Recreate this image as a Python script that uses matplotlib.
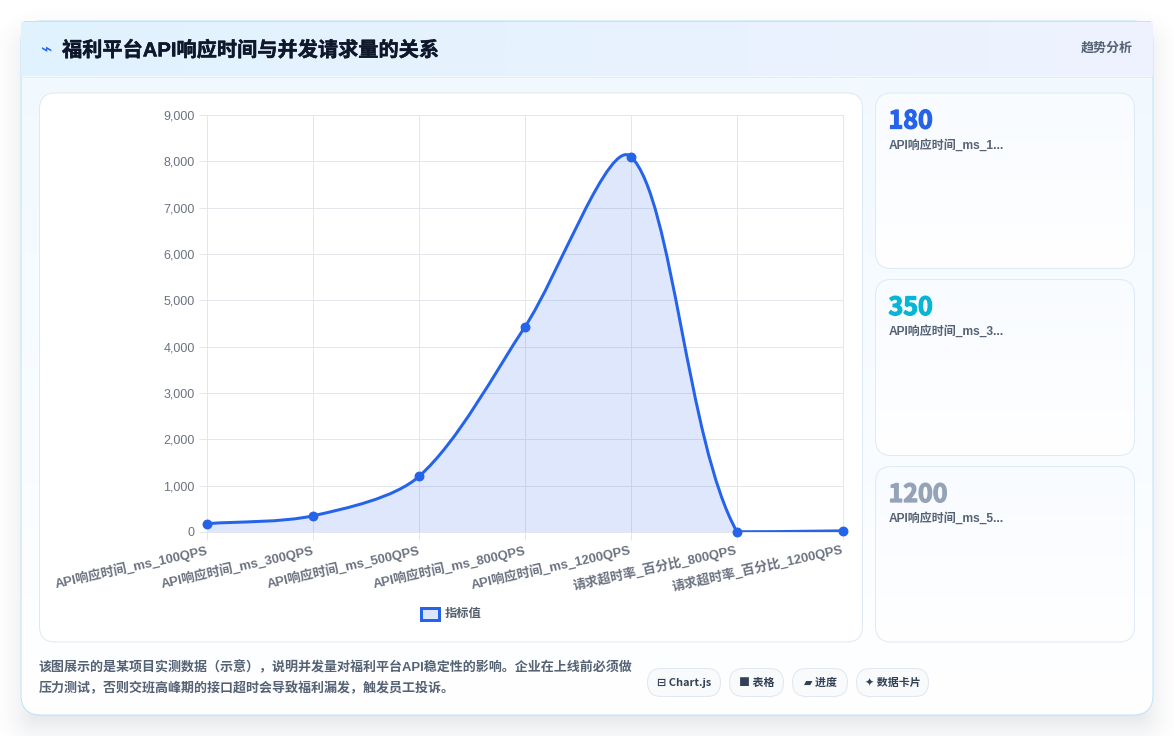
#!/usr/bin/env python3
"""Dashboard card: API response time against concurrent request volume."""

import numpy as np
import matplotlib
matplotlib.use('Agg')
import matplotlib.pyplot as plt
import matplotlib.patheffects as pe
from matplotlib.patches import FancyBboxPatch, PathPatch, Rectangle
from matplotlib.path import Path
from matplotlib.transforms import ScaledTranslation

WIDTH, HEIGHT = 1174, 736
PX = 72 / 100  # points per pixel at dpi 100

CJK = ['Noto Sans CJK SC', 'DejaVu Sans']
LATIN_CJK = ['Liberation Sans', 'Noto Sans CJK SC', 'DejaVu Sans']

categories = ['API响应时间_ms_100QPS', 'API响应时间_ms_300QPS', 'API响应时间_ms_500QPS',
              'API响应时间_ms_800QPS', 'API响应时间_ms_1200QPS',
              '请求超时率_百分比_800QPS', '请求超时率_百分比_1200QPS']
values = [180, 350, 1200, 4430, 8100, 5, 25]
y_ticks = list(range(0, 10000, 1000))

card_values = ['180', '350', '1200']
card_labels = ['API响应时间_ms_1...', 'API响应时间_ms_3...', 'API响应时间_ms_5...']
card_colors = ['#2563eb', '#06b6d4', '#94a3b8']

title = '福利平台API响应时间与并发请求量的关系'
badge = '趋势分析'
footer_lines = ['该图展示的是某项目实测数据（示意），说明并发量对福利平台API稳定性的影响。企业在上线前必须做',
                '压力测试，否则交班高峰期的接口超时会导致福利漏发，触发员工投诉。']
pills = ['⊟ Chart.js', '■ 表格', '▰ 进度', '✦ 数据卡片']

BLUE = '#2563eb'


def rounded(x0, y0, x1, y1, r, **kw):
    return FancyBboxPatch((x0, y0), x1 - x0, y1 - y0,
                          boxstyle=f'round,pad=0,rounding_size={r}', **kw)


def gradient_box(ax, x0, y0, x1, y1, r, c_start, c_end, horizontal=False, edge=None, z=1):
    """Rounded box filled with a two colour linear gradient."""
    c0 = np.array(matplotlib.colors.to_rgb(c_start))
    c1 = np.array(matplotlib.colors.to_rgb(c_end))
    t = np.linspace(0, 1, 256)
    img = (c0[None, :] + (c1 - c0)[None, :] * t[:, None])
    img = img[None, :, :] if horizontal else img[:, None, :]
    im = ax.imshow(img, extent=(x0, x1, y1, y0), aspect='auto', zorder=z, interpolation='bilinear')
    clip = rounded(x0, y0, x1, y1, r, transform=ax.transData, fc='none', ec='none')
    ax.add_patch(clip)
    im.set_clip_path(clip)
    if edge:
        ax.add_patch(rounded(x0, y0, x1, y1, r, fc='none', ec=edge, lw=1 * PX, zorder=z + 0.1))


def spline_path(px, py, left, right, top, bottom, tension=0.3):
    """Cubic segments through the points, control points capped to the plot area."""
    n = len(px)
    ctrl = []
    for i in range(n):
        p_prev = (px[max(i - 1, 0)], py[max(i - 1, 0)])
        p_next = (px[min(i + 1, n - 1)], py[min(i + 1, n - 1)])
        d01 = np.hypot(px[i] - p_prev[0], py[i] - p_prev[1])
        d12 = np.hypot(p_next[0] - px[i], p_next[1] - py[i])
        total = d01 + d12
        fa = tension * d01 / total
        fb = tension * d12 / total
        dx, dy = p_next[0] - p_prev[0], p_next[1] - p_prev[1]
        ctrl.append(((px[i] - fa * dx, py[i] - fa * dy), (px[i] + fb * dx, py[i] + fb * dy)))
    cap = lambda c: (min(max(c[0], left), right), min(max(c[1], bottom), top))
    verts = [(px[0], py[0])]
    codes = [Path.MOVETO]
    for i in range(n - 1):
        verts += [cap(ctrl[i][1]), cap(ctrl[i + 1][0]), (px[i + 1], py[i + 1])]
        codes += [Path.CURVE4] * 3
    return verts, codes


fig = plt.figure(figsize=(WIDTH / 100, HEIGHT / 100), dpi=100, facecolor='white')

# page layer, addressed in pixels from the top left corner
bg = fig.add_axes([0, 0, 1, 1])
bg.set_xlim(0, WIDTH)
bg.set_ylim(HEIGHT, 0)
bg.axis('off')

# soft drop shadow under the main card
xx, yy = np.meshgrid(np.arange(WIDTH) + 0.5, np.arange(HEIGHT) + 0.5)
dx = np.maximum(np.maximum(36 - xx, xx - 1138), 0)
dy = np.maximum(np.maximum(50 - yy, yy - 714), 0)
dist = np.hypot(dx, dy)
shadow = np.zeros((HEIGHT, WIDTH, 4))
shadow[..., :3] = matplotlib.colors.to_rgb('#334155')
shadow[..., 3] = 0.13 * np.clip(1 - dist / 50, 0, 1) ** 2
bg.imshow(shadow, extent=(0, WIDTH, HEIGHT, 0), aspect='auto', zorder=0)
bg.set_xlim(0, WIDTH)
bg.set_ylim(HEIGHT, 0)

# main card and its header strip
gradient_box(bg, 21, 21, 1153, 715, 20, '#f0f9ff', '#ffffff', z=1)
bg.add_patch(rounded(21, 21, 1153, 715, 20, fc='none', ec='#bfe3f8', lw=1 * PX, zorder=1.5))
gradient_box(bg, 21, 21, 1153, 76, 3, '#e0f2fe', '#eef2ff', horizontal=True, z=2)
bg.plot([21, 1153], [76.5, 76.5], color='#e0eefa', lw=1 * PX, zorder=2.5)
bg.plot([24, 1150], [21, 21], color='#bfe3f8', lw=1 * PX, zorder=2.5)

bg.text(47, 50, '⌁', color=BLUE, fontsize=19 * PX, family='DejaVu Sans', ha='center', va='center', zorder=4)
bg.text(62, 50.5, title, color='#0f172a', fontsize=20.2 * PX, fontweight='bold', family=LATIN_CJK,
        ha='left', va='center', zorder=4,
        path_effects=[pe.withStroke(linewidth=0.35, foreground='#0f172a')])
bg.text(1133, 48, badge, color='#556274', fontsize=13 * PX, fontweight='bold', family=CJK,
        ha='right', va='center', zorder=4)

# chart panel
gradient_box(bg, 39.5, 93, 862.5, 642, 16, '#ffffff', '#ffffff', edge='#e2e8f0', z=2)

# stat cards
card_tops = [93, 279.5, 466.5]
card_bottoms = [268.5, 455.5, 642]
for top, bot, val, lab, col in zip(card_tops, card_bottoms, card_values, card_labels, card_colors):
    gradient_box(bg, 875.5, top, 1134.5, bot, 16, '#f8fbff', '#ffffff', edge='#dfeaf6', z=2)
    bg.text(888.5, top + 28.5, val, color=col, fontsize=25 * PX, fontweight='bold', family=CJK,
            ha='left', va='center', zorder=4,
            path_effects=[pe.withStroke(linewidth=0.9, foreground=col)])
    bg.text(889, top + 52, lab, color='#556274', fontsize=12 * PX, fontweight='bold', family=LATIN_CJK,
            ha='left', va='center', zorder=4)

# legend swatch and caption
bg.add_patch(Rectangle((420.8, 607.6), 18.4, 12.6, fc='#dbe6fb', ec=BLUE, lw=3 * PX, zorder=4))
bg.text(445, 613, '指标值', color='#55606e', fontsize=12.3 * PX, family=CJK, fontweight='bold',
        ha='left', va='center', zorder=4)

# footer text
for y, line in zip([667.8, 688.8], footer_lines):
    bg.text(38.5, y, line, color='#556274', fontsize=13 * PX, fontweight='bold', family=LATIN_CJK,
            ha='left', va='center', zorder=4)

# footer pills
pill_spans = [(647.5, 720.5), (729.5, 783.5), (792.5, 847.5), (856.5, 928.5)]
for (x0, x1), label in zip(pill_spans, pills):
    bg.add_patch(rounded(x0, 668.5, x1, 696.5, 14, fc='#f8fafc', ec='#e2e8f0', lw=1 * PX, zorder=3))
    bg.text((x0 + x1) / 2, 683, label, color='#334155', fontsize=11 * PX, fontweight='bold',
            family=CJK, ha='center', va='center', zorder=4)

# line chart
ax = fig.add_axes([207 / WIDTH, 1 - 532 / HEIGHT, 636 / WIDTH, 417 / HEIGHT], zorder=5)
ax.patch.set_alpha(0)
x = np.arange(len(values))
ax.set_xlim(0, len(values) - 1)
ax.set_ylim(0, 9000)

ax.set_yticks(y_ticks)
ax.set_yticklabels([f'{v:,}' for v in y_ticks], color='#6b7280', fontsize=12.5 * PX, family='Liberation Sans')
ax.set_xticks(x)
ax.set_xticklabels(categories, rotation=12.5, ha='right', va='top', rotation_mode='anchor',
                   color='#6b7280', fontsize=13 * PX, fontweight='bold', family=LATIN_CJK)
ax.tick_params(axis='both', length=8 * PX, width=1 * PX, color='#e3e7ec', pad=3)
ax.tick_params(axis='x', pad=2)
nudge = ScaledTranslation(-1.5 / 100, 0, fig.dpi_scale_trans)
for lab in ax.get_xticklabels():
    lab.set_transform(lab.get_transform() + nudge)
ax.grid(True, color='#e3e7ec', lw=1 * PX)
ax.set_axisbelow(True)
for spine in ax.spines.values():
    spine.set_color('#e3e7ec')
    spine.set_linewidth(1 * PX)

# smooth the series in pixel space, then map the curve back to data space
pts = ax.transData.transform(np.column_stack([x, values]))
lim = ax.transData.transform([(0, 0), (len(values) - 1, 9000)])
verts, codes = spline_path(pts[:, 0], pts[:, 1], lim[0][0], lim[1][0], lim[1][1], lim[0][1])
data_verts = ax.transData.inverted().transform(verts)

fill_verts = np.vstack([data_verts, [[x[-1], 0], [x[0], 0], data_verts[0]]])
fill_codes = codes + [Path.LINETO, Path.LINETO, Path.CLOSEPOLY]
ax.add_patch(PathPatch(Path(fill_verts, fill_codes), fc=BLUE, alpha=0.15, ec='none', zorder=2))
ax.add_patch(PathPatch(Path(data_verts, codes), fc='none', ec=BLUE, lw=3 * PX, zorder=3, capstyle='round'))
ax.plot(x, values, ls='none', marker='o', ms=8.5 * PX, mfc=BLUE, mec=BLUE, clip_on=False, zorder=4)

fig.savefig('out.png', dpi=100)
